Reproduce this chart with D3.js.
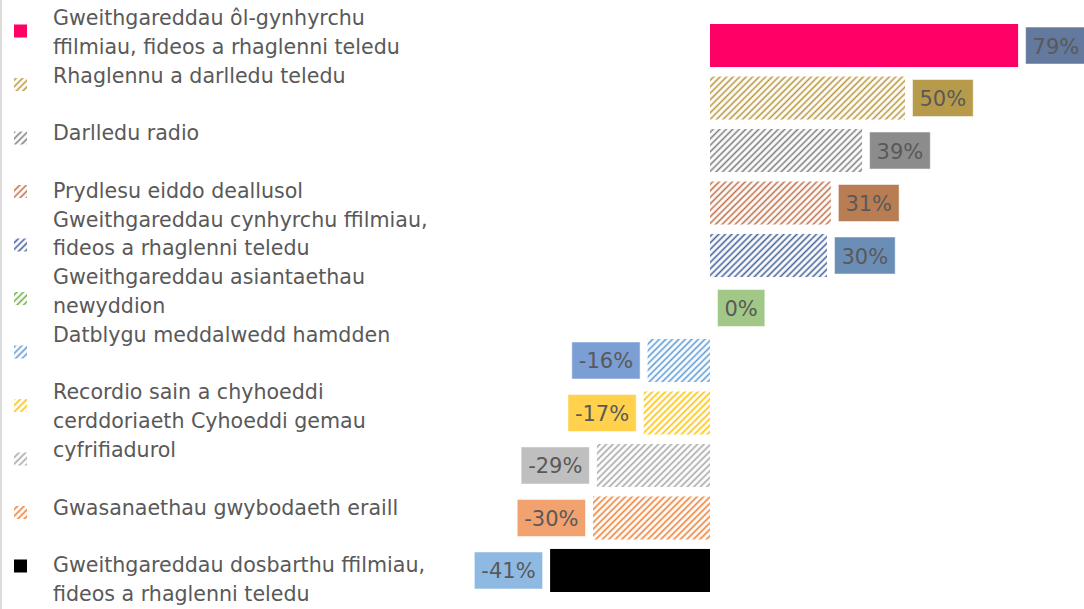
<!DOCTYPE html>
<html>
<head>
<meta charset="utf-8">
<style>
body { margin: 0; background: white; }
text { font-family: "DejaVu Sans", sans-serif; fill: #595959; }
</style>
</head>
<body>
<script src="https://cdn.jsdelivr.net/npm/d3@7"></script>
<script>
var width = 1084,
    height = 609;

// categories, top to bottom
var categories = [
  "Gweithgareddau ôl-gynhyrchu ffilmiau, fideos a rhaglenni teledu",
  "Rhaglennu a darlledu teledu",
  "Darlledu radio",
  "Prydlesu eiddo deallusol",
  "Gweithgareddau cynhyrchu ffilmiau, fideos a rhaglenni teledu",
  "Gweithgareddau asiantaethau newyddion",
  "Datblygu meddalwedd hamdden",
  "Recordio sain a chyhoeddi cerddoriaeth",
  "Cyhoeddi gemau cyfrifiadurol",
  "Gwasanaethau gwybodaeth eraill",
  "Gweithgareddau dosbarthu ffilmiau, fideos a rhaglenni teledu"
];
var values = [79, 50, 39, 31, 30, 0, -16, -17, -29, -30, -41];
var barColors = ["#FF0066", "#B8973F", "#7F7F7F", "#C0704A", "#44619B", "#70AD47",
                 "#5B9BD5", "#FFC000", "#A5A5A5", "#ED7D31", "#000000"];
var hatched = [false, true, true, true, true, true, true, true, true, true, false];
var labelColors = ["#63799E", "#B89B4A", "#8C8C8C", "#B97D53", "#6A8EB5", "#A2C887",
                   "#7B9ED4", "#FFD14D", "#BFBFBF", "#F1A26F", "#8DB9E3"];

// legend text as it flows (blank lines included)
var legendLines = [
  "Gweithgareddau ôl-gynhyrchu",
  "ffilmiau, fideos a rhaglenni teledu",
  "Rhaglennu a darlledu teledu",
  "",
  "Darlledu radio",
  "",
  "Prydlesu eiddo deallusol",
  "Gweithgareddau cynhyrchu ffilmiau,",
  "fideos a rhaglenni teledu",
  "Gweithgareddau asiantaethau",
  "newyddion",
  "Datblygu meddalwedd hamdden",
  "",
  "Recordio sain a chyhoeddi",
  "cerddoriaeth Cyhoeddi gemau",
  "cyfrifiadurol",
  "",
  "Gwasanaethau gwybodaeth eraill",
  "",
  "Gweithgareddau dosbarthu ffilmiau,",
  "fideos a rhaglenni teledu"
];

var svg = d3.select("body").append("svg")
    .attr("width", width)
    .attr("height", height);

// hatch patterns
var defs = svg.append("defs");
barColors.forEach(function(c, i) {
  var p = defs.append("pattern")
      .attr("id", "hatch" + i)
      .attr("patternUnits", "userSpaceOnUse")
      .attr("width", 4.6)
      .attr("height", 4.6)
      .attr("patternTransform", "rotate(45)");
  p.append("line")
      .attr("x1", 2.3).attr("y1", -1)
      .attr("x2", 2.3).attr("y2", 6)
      .attr("stroke", c)
      .attr("stroke-width", 1.6);
});

function fillOf(i) {
  return hatched[i] ? "url(#hatch" + i + ")" : barColors[i];
}

// left border line
svg.append("line")
    .attr("x1", 1).attr("x2", 1)
    .attr("y1", 0).attr("y2", height)
    .attr("stroke", "#d0d0d0")
    .attr("stroke-width", 1.5);

var x = d3.scaleLinear()
    .domain([-60, 90])
    .range([710 - 60 * 3.9, 710 + 90 * 3.9]);

var y = d3.scaleBand()
    .domain(categories)
    .range([24, 592])
    .paddingInner(0.18);

// bars
svg.append("g").selectAll("rect")
    .data(values)
    .enter()
    .append("rect")
    .attr("x", function(d) { return x(Math.min(0, d)); })
    .attr("y", function(d, i) { return y(categories[i]); })
    .attr("width", function(d) { return Math.abs(x(d) - x(0)); })
    .attr("height", y.bandwidth())
    .attr("fill", function(d, i) { return fillOf(i); });

// data labels in coloured boxes
var labels = svg.append("g").selectAll("g")
    .data(values)
    .enter()
    .append("g");

labels.append("rect")
    .attr("class", "box")
    .attr("fill", function(d, i) { return labelColors[i]; })
    .attr("stroke", "#ffffff")
    .attr("stroke-opacity", 0.5);

labels.append("text")
    .attr("font-size", 21)
    .attr("dominant-baseline", "central")
    .text(function(d) { return d + "%"; });

labels.each(function(d, i) {
  var g = d3.select(this);
  var t = g.select("text");
  var w = t.node().getComputedTextLength() + 14;
  var h = 37;
  var cy = y(categories[i]) + y.bandwidth() / 2;
  var bx = d >= 0 ? x(d) + 7.5 : x(d) - 7.5 - w;
  g.select("rect")
      .attr("x", bx).attr("y", cy - h / 2)
      .attr("width", w).attr("height", h);
  t.attr("x", bx + 7).attr("y", cy + 1);
});

// legend markers
var ly = d3.scalePoint()
    .domain(categories)
    .range([31, 566]);

svg.append("g").selectAll("rect")
    .data(categories)
    .enter()
    .append("rect")
    .attr("x", 14)
    .attr("y", function(d) { return ly(d) - 6.5; })
    .attr("width", 13)
    .attr("height", 13)
    .attr("fill", function(d, i) { return fillOf(i); });

// legend text
var lineY = d3.scaleLinear()
    .domain([0, legendLines.length - 1])
    .range([18, 594]);

svg.append("g").selectAll("text")
    .data(legendLines)
    .enter()
    .append("text")
    .attr("x", 53)
    .attr("y", function(d, i) { return lineY(i); })
    .attr("font-size", 20.6)
    .attr("dominant-baseline", "central")
    .text(function(d) { return d; });
</script>
</body>
</html>
